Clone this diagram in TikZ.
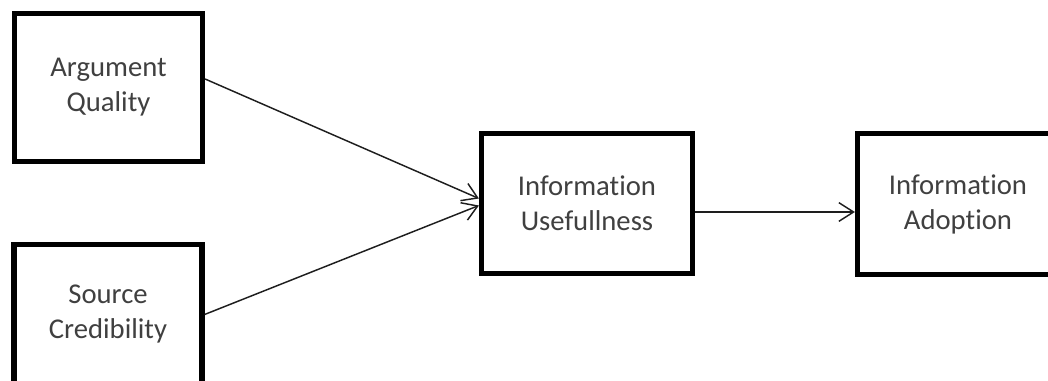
\documentclass[tikz,border=0pt]{standalone}
\usepackage{fontspec}
\setmainfont[Ligatures=NoCommon]{Carlito}
\usepackage{xcolor}
\definecolor{boxtext}{RGB}{64,64,64}
\definecolor{linkgray}{RGB}{30,30,30}
\usetikzlibrary{positioning,calc,arrows.meta}

\tikzset{
  construct/.style={draw=black,line width=3.9pt,fill=white,align=center,
    text=boxtext,font=\fontsize{21.5}{26.25}\selectfont,inner sep=0pt},
  link/.style={draw=linkgray,line width=1.1pt,-{Straight Barb[length=11pt,width=14pt,line width=1.1pt]}}
}

\begin{document}
\begin{tikzpicture}[x=0.75pt,y=-0.75pt]
  \useasboundingbox (0,0) rectangle (1048,381);
  \clip (0,0) rectangle (1048,381);

  \node[construct,minimum width=141pt,minimum height=111pt] (quality) at (108.5,87.5) {Argument\\Quality};
  \node[construct,minimum width=141pt,minimum height=105pt] (credibility) at (108,314.5) {Source\\Credibility};
  \node[construct,minimum width=158.25pt,minimum height=105pt] (usefulness) at (587,203.5) {Information\\Usefullness};
  \node[construct,minimum width=150.75pt,minimum height=105.75pt] (adoption) at (958,204) {Information\\Adoption};

  \draw[link] ($(quality.east)+(0,-8.5)$) -- ($(usefulness.west)+(0,-5)$);
  \draw[link] (credibility.east) -- ($(usefulness.west)+(0,2)$);
  \draw[link] ($(usefulness.east)+(0,8.5)$) -- ($(adoption.west)+(0,8)$);
\end{tikzpicture}
\end{document}
